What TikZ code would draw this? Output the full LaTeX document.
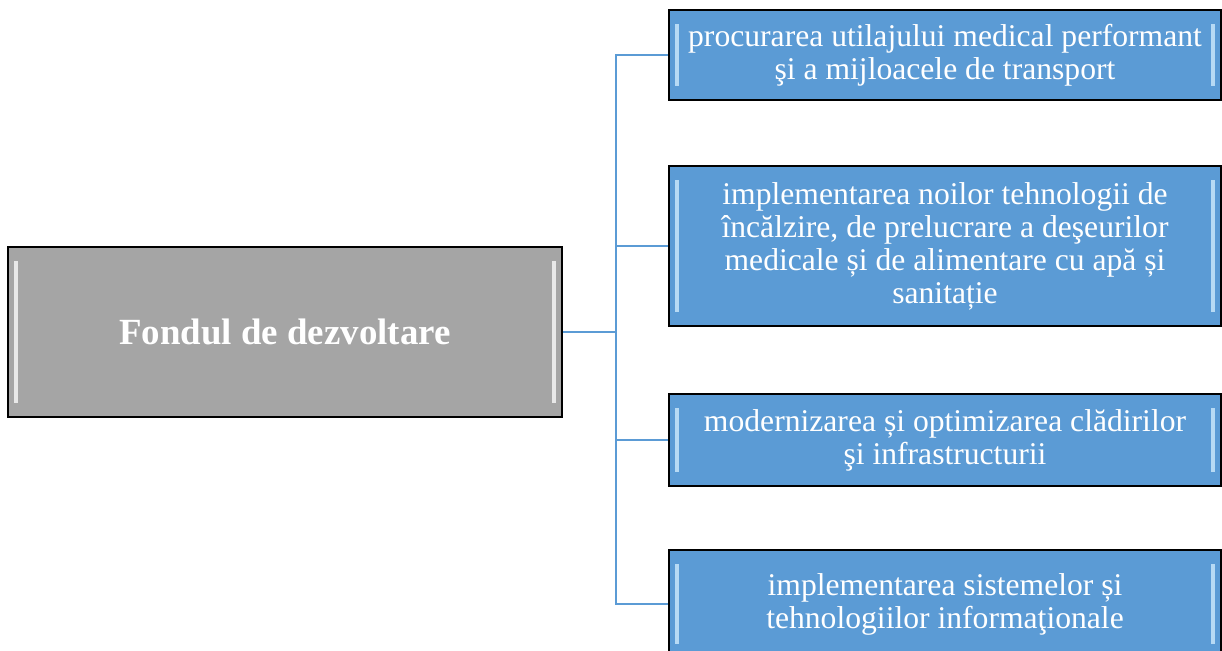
\documentclass[tikz,border=0pt]{standalone}
\usepackage{fontspec}
\setmainfont{Liberation Serif}
\usetikzlibrary{calc}

\definecolor{boxblue}{HTML}{5B9BD5}
\definecolor{boxgray}{HTML}{A5A5A5}
\definecolor{glint}{HTML}{D6F0FF}

\tikzset{
    bevel/.style={path picture={
        \draw[#1, line width=2.6pt, opacity=.75]
            ([xshift=4.5pt,yshift=-8pt]path picture bounding box.north west) --
            ([xshift=4.5pt,yshift=8pt]path picture bounding box.south west);
        \draw[#1, line width=2.6pt, opacity=.75]
            ([xshift=-4.5pt,yshift=-8pt]path picture bounding box.north east) --
            ([xshift=-4.5pt,yshift=8pt]path picture bounding box.south east);
    }},
    root/.style={draw=black, line width=1.3pt, fill=boxgray, bevel=white,
        minimum width=11.08cm, minimum height=3.4cm, text=white,
        font=\fontsize{21}{24}\selectfont\bfseries},
    leaf/.style={draw=black, line width=1.3pt, fill=boxblue, bevel=glint,
        minimum width=11.04cm, text=white, align=center, inner sep=2pt,
        font=\fontsize{18}{18.8}\selectfont},
    link/.style={draw=boxblue, line width=1.5pt}
}

\begin{document}
\begin{tikzpicture}[x=0.02cm, y=-0.02cm]
    \useasboundingbox (0,0) rectangle (1222,651);
    \node[root] (fond) at (285,332) {Fondul de dezvoltare};
    \node[leaf, minimum height=1.8cm] (utilaj) at (945,55)
        {procurarea utilajului medical performant\\ şi a mijloacele de transport};
    \node[leaf, minimum height=3.2cm] (tehno) at (945,246)
        {implementarea noilor tehnologii de\\ încălzire, de prelucrare a deşeurilor\\
         medicale și de alimentare cu apă și\\ sanitație};
    \node[leaf, minimum height=1.84cm] (cladiri) at (945,440)
        {modernizarea și optimizarea clădirilor\\ şi infrastructurii};
    \node[leaf, minimum height=2.16cm] (info) at (945,604)
        {implementarea sistemelor și\\ tehnologiilor informaţionale};
    \coordinate (trunk) at (616,332);
    \draw[link] (fond.east) -- (trunk);
    \draw[link] (utilaj.west) -| (trunk) |- (info.west);
    \draw[link] (trunk |- tehno.west) -- (tehno.west);
    \draw[link] (trunk |- cladiri.west) -- (cladiri.west);
\end{tikzpicture}
\end{document}
